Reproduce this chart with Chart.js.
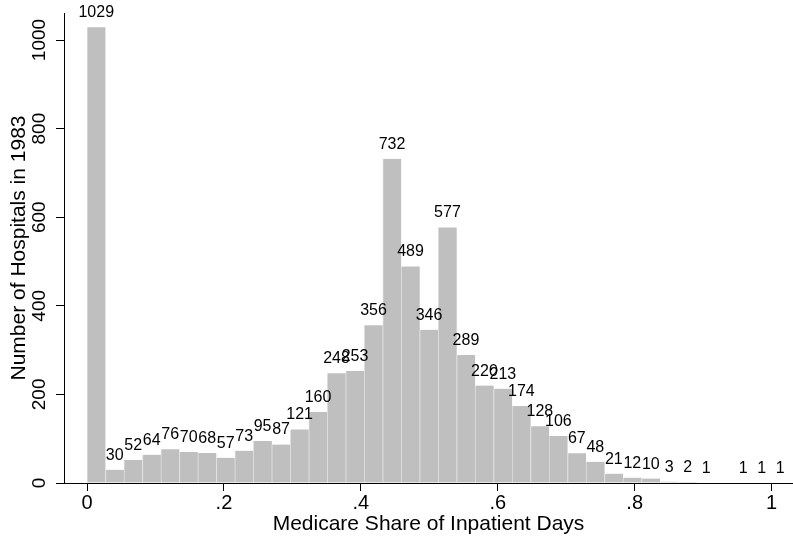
<!DOCTYPE html>
<html>
<head>
<meta charset="utf-8">
<script src="https://cdn.jsdelivr.net/npm/chart.js@4/dist/chart.umd.min.js"></script>
<style>
  body { margin: 0; background: #fff; }
</style>
</head>
<body>
<canvas id="hist" width="793" height="542"></canvas>
<script>
// Medicare share of inpatient days, bins of width .027 starting at 0
const binWidth = 0.027;
const counts = [
  1029, 30, 52, 64, 76, 70, 68, 57, 73, 95,
  87, 121, 160, 248, 253, 356, 732, 489, 346, 577,
  289, 220, 213, 174, 128, 106, 67, 48, 21, 12,
  10, 3, 2, 1, 0, 1, 1, 1
];
const binCenters = counts.map((c, i) => (i + 0.5) * binWidth);

const xTicks = [0, 0.2, 0.4, 0.6, 0.8, 1];
const xTickLabels = ['0', '.2', '.4', '.6', '.8', '1'];
const yTicks = [0, 200, 400, 600, 800, 1000];
const yTickLabels = ['0', '200', '400', '600', '800', '1000'];

const FONT = '"Liberation Sans", Arial, Helvetica, sans-serif';

const barLabels = {
  id: 'barLabels',
  afterDatasetsDraw(chart) {
    const ctx = chart.ctx;
    const meta = chart.getDatasetMeta(0);
    ctx.save();
    ctx.font = '16px ' + FONT;
    ctx.fillStyle = '#000';
    ctx.textAlign = 'center';
    ctx.textBaseline = 'alphabetic';
    meta.data.forEach((bar, i) => {
      if (!counts[i]) return;
      ctx.fillText(String(counts[i]), bar.x, bar.y - 10);
    });
    ctx.restore();
  }
};

new Chart(document.getElementById('hist'), {
  type: 'bar',
  data: {
    datasets: [{
      data: counts.map((c, i) => ({ x: binCenters[i], y: c })),
      backgroundColor: '#bfbfbf',
      borderColor: '#dedede',
      borderWidth: { left: 1, right: 0, top: 0, bottom: 0 },
      borderSkipped: false,
      barPercentage: 1,
      categoryPercentage: 1
    }]
  },
  options: {
    responsive: false,
    animation: false,
    layout: { padding: { top: 13, left: 0, right: 0, bottom: 0 } },
    plugins: {
      legend: { display: false },
      tooltip: { enabled: false }
    },
    scales: {
      x: {
        type: 'linear',
        offset: false,
        min: -0.0336,
        max: 1.0312,
        afterBuildTicks: (scale) => { scale.ticks = xTicks.map((v) => ({ value: v })); },
        afterFit: (scale) => { scale.height = 59; },
        grid: { offset: false, drawOnChartArea: false, drawTicks: true, tickLength: 8, color: '#000' },
        border: { display: true, color: '#000', width: 1 },
        ticks: {
          padding: 0,
          color: '#000',
          font: { family: FONT, size: 20 },
          maxRotation: 0,
          callback: (value, index) => xTickLabels[index]
        },
        title: {
          display: true,
          text: 'Medicare Share of Inpatient Days',
          color: '#000',
          font: { family: FONT, size: 21 },
          padding: { top: 0, bottom: 5 }
        }
      },
      y: {
        min: 0,
        max: 1061,
        afterBuildTicks: (scale) => { scale.ticks = yTicks.map((v) => ({ value: v })); },
        afterFit: (scale) => { scale.width = 64; },
        grid: { drawOnChartArea: false, drawTicks: true, tickLength: 8, color: '#000' },
        border: { display: true, color: '#000', width: 1 },
        ticks: {
          padding: -5,
          crossAlign: 'center',
          minRotation: 90,
          maxRotation: 90,
          color: '#000',
          font: { family: FONT, size: 19 },
          callback: (value, index) => yTickLabels[index]
        },
        title: {
          display: true,
          text: 'Number of Hospitals in 1983',
          color: '#000',
          font: { family: FONT, size: 21 },
          padding: { top: 7, bottom: 0 }
        }
      }
    }
  },
  plugins: [barLabels]
});
</script>
</body>
</html>
